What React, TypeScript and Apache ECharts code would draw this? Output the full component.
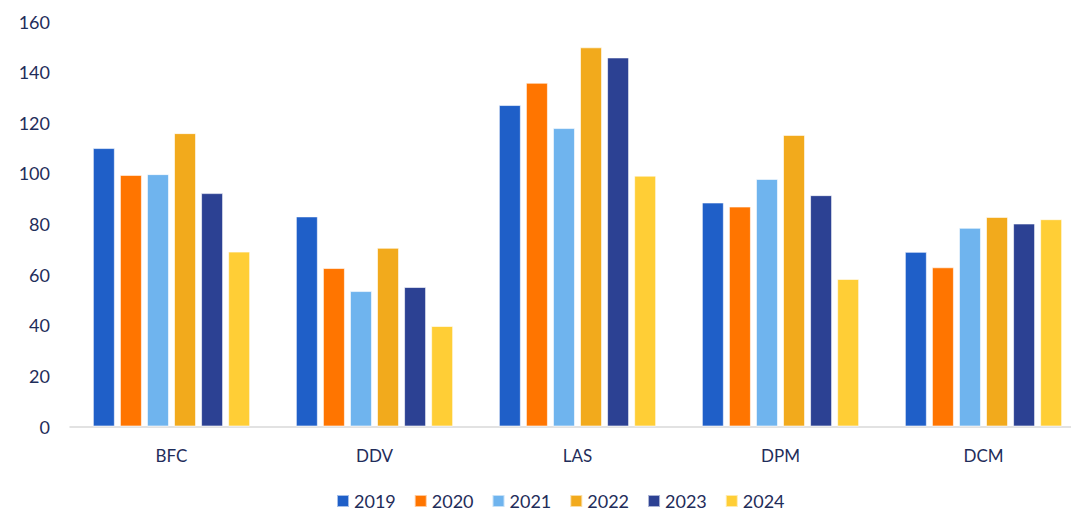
import React, { useEffect, useRef } from "react";
import * as echarts from "echarts";

const categories = ["BFC", "DDV", "LAS", "DPM", "DCM"];
const years = ["2019", "2020", "2021", "2022", "2023", "2024"];
const v2019 = [110, 83, 127, 88.5, 69];
const v2020 = [99.4, 62.6, 135.8, 86.9, 62.9];
const v2021 = [99.7, 53.5, 117.9, 97.8, 78.5];
const v2022 = [115.9, 70.6, 149.8, 115.2, 82.8];
const v2023 = [92.2, 55.1, 145.8, 91.4, 80.2];
const v2024 = [69.1, 39.7, 99.1, 58.3, 81.9];
const seriesValues = [v2019, v2020, v2021, v2022, v2023, v2024];
const colors = ["#1F5FC8", "#FF7500", "#6FB4EE", "#F2AA1C", "#2C4193", "#FFCE36"];
const yTicks = [0, 20, 40, 60, 80, 100, 120, 140, 160];

export default function App() {
  const ref = useRef<HTMLDivElement>(null);
  useEffect(() => {
    document.body.style.margin = "0";
    document.body.style.overflow = "hidden";
    if (!ref.current) return;
    const chart = echarts.init(ref.current, null, { renderer: "svg" });
    const textColor = "#1F2D5A";
    chart.setOption({
      animation: false,
      textStyle: { fontFamily: "Lato" },
      grid: { left: 70, right: 0, top: 21.5, bottom: 85.5 },
      legend: {
        data: years,
        left: 331,
        top: 487,
        padding: [5, 5, 0, 5],
        itemWidth: 12,
        itemHeight: 12,
        itemGap: 18,
        icon: "rect",
        textStyle: { color: textColor, fontSize: 18, lineHeight: 14, fontFamily: "Lato" },
      },
      xAxis: {
        type: "category",
        data: categories,
        axisLine: { lineStyle: { color: "#D9D9D9", width: 1.5 } },
        axisTick: { show: false },
        axisLabel: { color: textColor, fontSize: 17, margin: 20, fontFamily: "Lato" },
      },
      yAxis: {
        type: "value",
        min: yTicks[0],
        max: yTicks[yTicks.length - 1],
        interval: 20,
        splitLine: { show: false },
        axisLine: { show: false },
        axisTick: { show: false },
        axisLabel: { color: textColor, fontSize: 18, margin: 20, fontFamily: "Lato" },
      },
      series: years.map((y, i) => ({
        name: y,
        type: "bar",
        data: seriesValues[i],
        barWidth: 22,
        barGap: "23%",
        itemStyle: { color: colors[i], borderColor: "rgba(255,255,255,0.6)", borderWidth: 1 },
      })),
    });
    return () => chart.dispose();
  }, []);
  return <div ref={ref} style={{ width: 1085, height: 512 }} />;
}
